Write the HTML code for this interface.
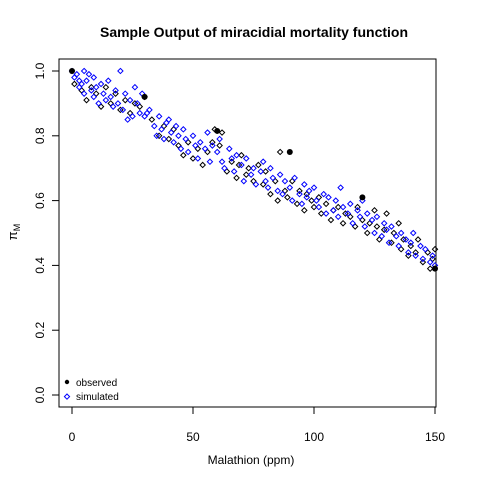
<!DOCTYPE html>
<html><head><meta charset="utf-8"><style>body{margin:0;background:#fff}svg{display:block;font-family:"Liberation Sans",Arial,sans-serif}</style></head>
<body>
<svg id="chart" width="480" height="480">
<rect width="480" height="480" fill="#fff"/>
<text x="254" y="37" text-anchor="middle" font-size="14" font-weight="bold">Sample Output of miracidial mortality function</text>
<rect x="59" y="59" width="377" height="348" fill="none" stroke="#000"/>
<text x="251" y="464" text-anchor="middle" font-size="12">Malathion (ppm)</text>
<text transform="translate(17,232) rotate(-90)" text-anchor="middle" font-size="13">π<tspan font-size="9" dy="3">M</tspan></text>
<g id="axes"></g>
<g id="marks"></g>
<g>
<circle cx="67" cy="382" r="2.2" fill="#000"/>
<text x="76" y="386" font-size="10">observed</text>
<path d="M67,394 l2.6,2.6 l-2.6,2.6 l-2.6,-2.6z" fill="none" stroke="#00f"/>
<text x="76" y="400" font-size="10">simulated</text>
</g>
</svg>
<script>
const xTicks=[0,50,100,150];
const yTicks=[0,0.2,0.4,0.6,0.8,1.0];
const yTickLabels=["0.0","0.2","0.4","0.6","0.8","1.0"];
const obsX=[0,30,60,90,120,150];
const obsY=[1.0,0.92,0.815,0.75,0.61,0.39];
const blueX=[0,1,2,3,3,4,5,5,6,7,8,9,9,10,11,12,13,14,15,16,17,18,19,20,21,22,23,24,25,26,27,28,29,30,31,32,34,35,36,37,38,39,40,41,42,43,44,45,46,47,48,50,51,52,53,55,56,57,58,60,61,62,63,65,66,67,68,70,71,72,74,75,76,78,79,80,81,82,83,85,86,87,88,90,91,92,94,95,96,97,98,100,101,102,104,105,106,108,109,110,111,112,114,115,116,118,119,120,121,122,124,125,126,128,129,130,131,132,134,135,136,138,139,140,141,142,144,145,146,148,149,150];
const blueY=[1.0,0.98,0.99,0.97,0.95,0.96,1.0,0.93,0.97,0.99,0.94,0.92,0.98,0.95,0.90,0.96,0.93,0.91,0.97,0.92,0.89,0.94,0.90,1.0,0.88,0.93,0.85,0.91,0.86,0.95,0.90,0.87,0.93,0.86,0.87,0.88,0.83,0.80,0.86,0.82,0.79,0.84,0.85,0.81,0.78,0.83,0.80,0.76,0.82,0.79,0.75,0.80,0.77,0.73,0.78,0.76,0.81,0.72,0.77,0.75,0.79,0.72,0.70,0.76,0.73,0.69,0.74,0.71,0.66,0.73,0.68,0.70,0.65,0.69,0.72,0.66,0.64,0.70,0.67,0.63,0.68,0.62,0.66,0.64,0.60,0.67,0.62,0.59,0.65,0.61,0.63,0.64,0.60,0.58,0.62,0.56,0.61,0.57,0.60,0.55,0.64,0.58,0.56,0.59,0.53,0.57,0.55,0.60,0.52,0.56,0.54,0.50,0.55,0.49,0.53,0.51,0.47,0.52,0.49,0.46,0.50,0.48,0.44,0.47,0.50,0.43,0.46,0.42,0.45,0.41,0.43,0.40];
const blackX=[1,4,6,8,10,12,14,16,18,20,22,24,26,28,30,33,36,38,40,42,44,46,48,50,52,54,56,58,59,61,62,64,66,68,69,70,72,73,75,77,79,80,82,84,85,86,88,89,91,93,94,96,97,99,100,102,103,105,107,108,110,112,113,115,117,118,120,122,123,125,126,127,129,130,132,133,135,136,137,139,140,142,143,145,147,148,149,150];
const blackY=[0.96,0.94,0.91,0.95,0.93,0.89,0.95,0.90,0.93,0.88,0.91,0.87,0.90,0.89,0.92,0.85,0.80,0.83,0.79,0.82,0.77,0.74,0.78,0.73,0.76,0.71,0.75,0.78,0.82,0.77,0.81,0.69,0.72,0.67,0.71,0.74,0.68,0.70,0.66,0.71,0.65,0.69,0.62,0.66,0.60,0.75,0.63,0.61,0.66,0.59,0.63,0.57,0.62,0.60,0.58,0.61,0.56,0.59,0.54,0.57,0.58,0.53,0.56,0.55,0.52,0.58,0.54,0.50,0.53,0.57,0.52,0.48,0.51,0.56,0.47,0.50,0.53,0.45,0.48,0.43,0.46,0.44,0.48,0.41,0.44,0.39,0.42,0.45];
const NS="http://www.w3.org/2000/svg";
const sx=v=>72+v*(435-72)/150;
const sy=v=>395-v*(395-71);
const axes=document.getElementById('axes'),marks=document.getElementById('marks');
function mk(tag,attrs,parent){const e=document.createElementNS(NS,tag);for(const k in attrs)e.setAttribute(k,attrs[k]);parent.appendChild(e);return e;}
xTicks.forEach(t=>{
 const l=mk('line',{x1:sx(t),x2:sx(t),y1:407,y2:414,stroke:'#000'},axes);
 
 
 const tx=mk('text',{x:sx(t),y:441,'text-anchor':'middle','font-size':12},axes);tx.textContent=t;
 
 
});
yTicks.forEach((t,i)=>{
 const l=mk('line',{x1:52,x2:59,y1:sy(t),y2:sy(t),stroke:'#000'},axes);
 
 
 const tx=mk('text',{transform:`translate(44,${sy(t)}) rotate(-90)`,'text-anchor':'middle','font-size':12},axes);tx.textContent=yTickLabels[i];
 
 
});
function diamond(x,y,c){const X=sx(x),Y=sy(y);return mk('path',{d:`M${X},${Y-2.6} l2.6,2.6 l-2.6,2.6 l-2.6,-2.6z`,fill:'none',stroke:c,'stroke-width':1},marks);}
blackX.forEach((x,i)=>{const d=diamond(x,blackY[i],'#000');
 
 });
blueX.forEach((x,i)=>{const d=diamond(x,blueY[i],'#00f');
 
 });
obsX.forEach((x,i)=>{const c=mk('circle',{cx:sx(x),cy:sy(obsY[i]),r:3,fill:'#000'},marks);
 
 });
</script>
</body></html>
